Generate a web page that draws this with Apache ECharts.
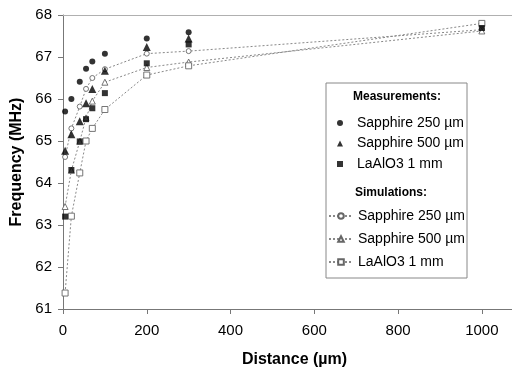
<!DOCTYPE html>
<html>
<head>
<meta charset="utf-8">
<script src="https://cdn.jsdelivr.net/npm/echarts@6/dist/echarts.min.js"></script>
<style>
html,body{margin:0;padding:0;background:#fff;}
#c{width:512px;height:373px;}
</style>
</head>
<body>
<div id="c"></div>
<script>
// ---- data ----
var measDist = [5, 20, 40, 55, 70, 100, 200, 300];
var measLaDist = [5, 20, 40, 55, 70, 100, 200, 300, 1000];
var measS250 = [65.70, 66.00, 66.41, 66.72, 66.89, 67.08, 67.44, 67.59];
var measS500 = [64.77, 65.16, 65.47, 65.90, 66.24, 66.67, 67.24, 67.44];
var measLa   = [63.20, 64.31, 64.99, 65.52, 65.78, 66.14, 66.85, 67.30, 67.69];

var simDist = [5, 20, 40, 55, 70, 100, 200, 300, 1000];
var simS250 = [64.62, 65.30, 65.82, 66.24, 66.50, 66.71, 67.08, 67.14, 67.65];
var simS500 = [63.44, 64.30, 64.99, 65.55, 65.95, 66.40, 66.75, 66.88, 67.62];
var simLa   = [61.38, 63.21, 64.24, 65.00, 65.30, 65.75, 66.57, 66.79, 67.80];

var seriesKeys = ['m1', 'm2', 'm3', 's1', 's2', 's3'];
var seriesLabels = ['Sapphire 250 µm', 'Sapphire 500 µm', 'LaAlO3 1 mm',
                    'Sapphire 250 µm', 'Sapphire 500 µm', 'LaAlO3 1 mm'];
var legendHeaders = ['Measurements:', 'Simulations:'];
var xTitle = 'Distance (µm)';
var yTitle = 'Frequency (MHz)';

function pairs(xs, ys) { return ys.map(function (v, i) { return [xs[i], v]; }); }
var labelMap = {};
seriesKeys.forEach(function (k, i) { labelMap[k] = seriesLabels[i]; });

var FONT = 'Liberation Sans, Arial, sans-serif';
var chart = echarts.init(document.getElementById('c'), null, {renderer: 'canvas'});

function simSeries(name, symbol, size, data) {
  return {
    name: name, type: 'line', data: data, symbol: symbol, symbolSize: size,
    itemStyle: {color: '#fff', borderColor: '#666', borderWidth: 0.9},
    lineStyle: {color: '#888', width: 1, type: [2, 2]},
    z: 2
  };
}
function measSeries(name, symbol, size, data) {
  return {
    name: name, type: 'scatter', data: data, symbol: symbol, symbolSize: size,
    symbolKeepAspect: true,
    itemStyle: {color: '#000'}, z: 4
  };
}

chart.setOption({
  animation: false,
  backgroundColor: '#fff',
  grid: {left: 63, top: 15, bottom: 60, right: 0},
  xAxis: [{
    type: 'value', min: 0, max: 1072, interval: 200,
    axisLine: {lineStyle: {color: '#777', width: 1}},
    axisTick: {show: true, inside: false, length: 5, lineStyle: {color: '#777'}},
    axisLabel: {color: '#000', fontSize: 15, fontFamily: FONT, margin: 14, showMaxLabel: false,
                formatter: function (v) { return String(v); }},
    splitLine: {show: false},
    name: xTitle, nameLocation: 'middle', nameGap: 43,
    nameTextStyle: {color: '#000', fontSize: 16, fontWeight: 'bold', fontFamily: FONT,
                    padding: [0, 0, 0, 14]}
  }, {
    type: 'value', min: 0, max: 1072, position: 'top',
    axisLine: {show: true, lineStyle: {color: '#b0b0b0', width: 1}},
    axisTick: {show: false}, axisLabel: {show: false}, splitLine: {show: false}
  }],
  yAxis: {
    type: 'value', min: 61, max: 68, interval: 1,
    axisLine: {show: true, lineStyle: {color: '#777', width: 1}},
    axisTick: {show: true, inside: false, length: 5, lineStyle: {color: '#777'}},
    axisLabel: {color: '#000', fontSize: 15, fontFamily: FONT, margin: 11},
    splitLine: {show: false},
    name: yTitle, nameLocation: 'middle', nameGap: 30, nameRotate: 90,
    nameTextStyle: {color: '#000', fontSize: 16, fontWeight: 'bold', fontFamily: FONT}
  },
  graphic: [
    {type: 'rect', shape: {x: 326, y: 83, width: 141, height: 195},
     style: {fill: '#fff', stroke: '#888', lineWidth: 1}, z: 10},
    {type: 'text', style: {text: legendHeaders[0], x: 397, y: 97,
     align: 'center', verticalAlign: 'middle', font: 'bold 12px ' + FONT, fill: '#000'}, z: 11},
    {type: 'text', style: {text: legendHeaders[1], x: 391, y: 193,
     align: 'center', verticalAlign: 'middle', font: 'bold 12px ' + FONT, fill: '#000'}, z: 11}
  ],
  legend: [{
    data: ['m1', 'm2', 'm3'], orient: 'vertical', left: 337, top: 116, padding: 0,
    itemWidth: 6, itemHeight: 6, itemGap: 6.5, z: 12,
    formatter: function (n) { return labelMap[n]; },
    textStyle: {color: '#000', fontSize: 14, fontFamily: FONT, padding: [0, 0, 0, 9]}
  }, {
    data: ['s1', 's2', 's3'], orient: 'vertical', left: 328, top: 209, padding: 0,
    itemWidth: 24, itemHeight: 7, itemGap: 9, z: 12,
    formatter: function (n) { return labelMap[n]; },
    textStyle: {color: '#000', fontSize: 14, fontFamily: FONT}
  }],
  series: [
    simSeries('s1', 'circle', 5, pairs(simDist, simS250)),
    simSeries('s2', 'triangle', 6, pairs(simDist, simS500)),
    simSeries('s3', 'rect', 6, pairs(simDist, simLa)),
    measSeries('m1', 'circle', 6, pairs(measDist, measS250)),
    measSeries('m2', 'triangle', 8, pairs(measDist, measS500)),
    measSeries('m3', 'rect', 6, pairs(measLaDist, measLa))
  ]
});
</script>
</body>
</html>
